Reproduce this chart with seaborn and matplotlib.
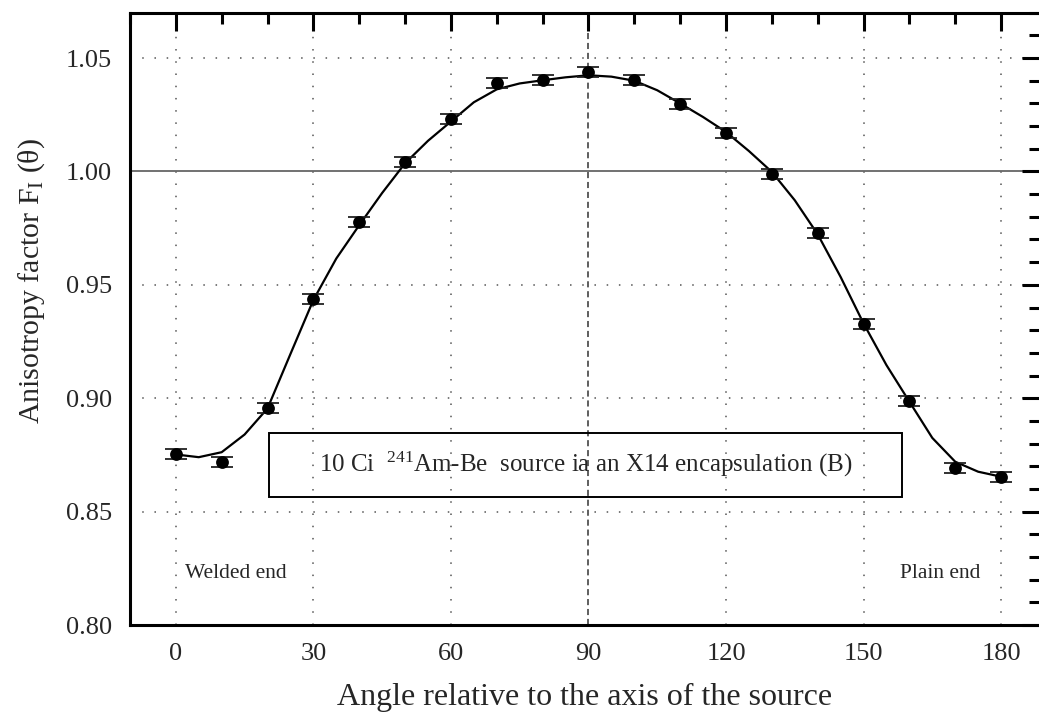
import numpy as np
import pandas as pd
import matplotlib
matplotlib.use('Agg')
import matplotlib.pyplot as plt
from matplotlib.ticker import MultipleLocator
from matplotlib.patches import Rectangle
import seaborn as sns

# measured points (angle in degrees, anisotropy factor)
angles = [0, 10, 20, 30, 40, 50, 60, 70, 80, 90,
          100, 110, 120, 130, 140, 150, 160, 170, 180]
factor = [0.8754, 0.8719, 0.8956, 0.9437, 0.9775, 1.0042, 1.0233, 1.0390, 1.0402, 1.0437,
          1.0402, 1.0296, 1.0170, 0.9990, 0.9729, 0.9326, 0.8989, 0.8691, 0.8654]
factor_err = [0.0022] * len(angles)

# fitted curve
fit_angles = [0, 5, 10, 15, 20, 25, 30, 35, 40, 45, 50, 55, 60, 65, 70, 75, 80, 85, 90,
              95, 100, 105, 110, 115, 120, 125, 130, 135, 140, 145, 150, 155, 160, 165,
              170, 175, 180]
fit_values = [0.8752, 0.8740, 0.8762, 0.8840, 0.8955, 0.9195, 0.9433, 0.9616, 0.9763,
              0.9905, 1.0036, 1.0135, 1.0220, 1.0305, 1.0362, 1.0388, 1.0402, 1.0415,
              1.0424, 1.0418, 1.0400, 1.0358, 1.0300, 1.0240, 1.0174, 1.0090, 0.9998,
              0.9873, 0.9723, 0.9535, 0.9330, 0.9146, 0.8985, 0.8825, 0.8720, 0.8676,
              0.8654]

box_label = r'10 Ci  $^{241}$Am-Be  source ia an X14 encapsulation (B)'

sns.set_theme(style='white')
plt.rcParams.update({
    'font.family': ['Liberation Serif', 'DejaVu Serif'],
    'mathtext.fontset': 'custom',
    'mathtext.rm': 'Liberation Serif',
    'mathtext.it': 'Liberation Serif',
    'mathtext.default': 'regular',
    'axes.edgecolor': 'black',
    'axes.linewidth': 2.2,
})

pts = pd.DataFrame({'angle': angles, 'F': factor, 'err': factor_err})
fit = pd.DataFrame({'angle': fit_angles, 'F': fit_values})

fig = plt.figure(figsize=(10.39, 7.17), dpi=100)
ax = fig.add_axes([0.1251, 0.1283, 1.001 - 0.1251, 0.9823 - 0.1283])

# grid: dotted at majors, solid line at unity, dashed at 90 deg
dots = (0, (1, 7))
for xv in [0, 30, 60, 120, 150, 180]:
    ax.axvline(xv, color='#555555', lw=1.1, ls=dots, zorder=0)
for yv in [0.85, 0.90, 0.95, 1.05]:
    ax.axhline(yv, color='#555555', lw=1.1, ls=dots, zorder=0)
ax.axhline(1.0, color='#666666', lw=1.3, zorder=0)
ax.axvline(90, color='#333333', lw=1.1, ls=(0, (4, 2.5)), zorder=0)

sns.lineplot(data=fit, x='angle', y='F', ax=ax, color='black', lw=1.6,
             legend=False, zorder=2)
ax.errorbar(pts['angle'], pts['F'], yerr=pts['err'], fmt='none',
            ecolor='#222222', elinewidth=1.2, capsize=8, capthick=1.3, zorder=3)
sns.scatterplot(data=pts, x='angle', y='F', ax=ax, color='black', s=85,
                edgecolor='black', linewidth=0, zorder=4)

ax.set_xlim(-10, 188.5)
ax.set_ylim(0.80, 1.07)
ax.xaxis.set_major_locator(MultipleLocator(30))
ax.xaxis.set_minor_locator(MultipleLocator(10))
ax.yaxis.set_major_locator(MultipleLocator(0.05))
ax.yaxis.set_minor_locator(MultipleLocator(0.01))
ax.yaxis.set_major_formatter(matplotlib.ticker.FormatStrFormatter('%.2f'))
ax.tick_params(which='both', direction='in', top=True, right=True,
               width=2.2, labelsize=19, pad=13, color='black')
ax.tick_params(which='major', length=13)
ax.tick_params(which='minor', length=8)

ax.set_xlabel('Angle relative to the axis of the source', fontsize=23, labelpad=13)
ax.set_ylabel('Anisotropy factor F$_{I}$ (θ)', fontsize=21.5)
ax.yaxis.set_label_coords(-0.091, 0.562)

# caption box
ax.add_patch(Rectangle((20.4, 0.8565), 138.1, 0.0282, fill=False,
                       edgecolor='black', lw=1.4, zorder=5))
ax.text(89.5, 0.8706, box_label, fontsize=18, ha='center', va='center', zorder=6)

ax.text(2, 0.8225, 'Welded end', fontsize=15.5, ha='left', va='center')
ax.text(158, 0.8225, 'Plain end', fontsize=15.5, ha='left', va='center')

fig.savefig('out.png', dpi=100, facecolor='white')
